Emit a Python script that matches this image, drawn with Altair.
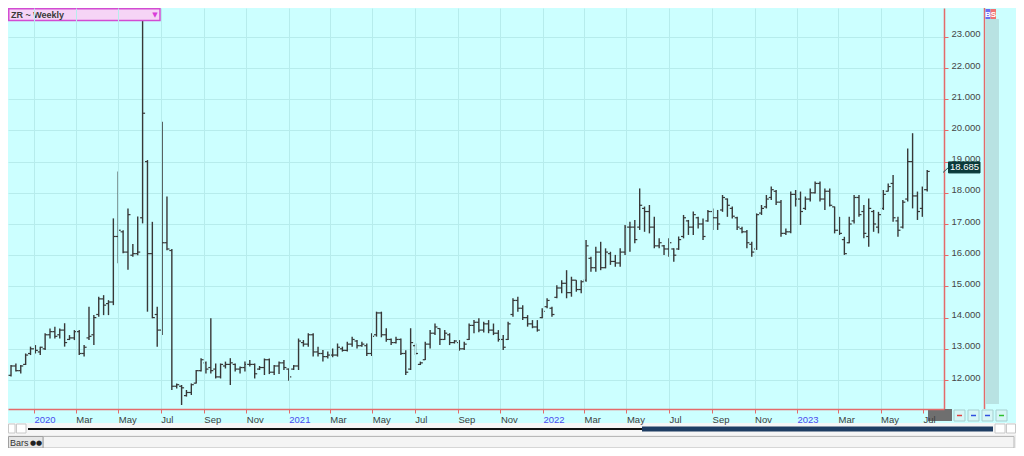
import altair as alt
import pandas as pd

# ---------------- data (weekly OHLC, ZR rough rice) ----------------
FIRST_WEEK = "2019-11-29"

lows = [
    12.11, 12.27, 12.21, 12.48, 12.80, 12.85, 12.80, 12.96, 13.33, 13.33, 13.33, 13.07, 13.28, 13.28, 12.80, 12.75,
    13.28, 13.12, 14.03, 14.08, 14.08, 14.40, 15.74, 16.06, 15.53, 15.95, 16.00, 17.02, 14.19, 13.98, 13.07, 13.44,
    16.16, 11.68, 11.73, 11.20, 11.47, 11.52, 11.89, 12.27, 12.21, 12.21, 12.05, 12.05, 12.37, 11.84, 12.27, 12.21,
    12.27, 12.43, 12.05,
    12.32, 12.16, 12.19, 12.16, 12.19, 12.32, 11.98, 12.32, 12.32, 13.07, 13.07, 12.75, 12.75, 12.59, 12.69, 12.73,
    12.75, 12.91, 12.91, 13.07, 13.01, 13.07, 12.77, 12.77, 13.39, 13.37, 13.23, 13.12, 13.17, 12.80, 12.16, 12.32,
    12.80, 12.48, 12.64, 13.01, 13.44, 13.12, 13.28, 13.12, 13.17, 12.94, 12.96, 13.28, 13.50, 13.53, 13.52, 13.50,
    13.44, 13.23, 12.96,
    13.28, 14.03, 14.19, 13.92, 13.71, 13.66, 13.55, 13.98, 14.30, 14.03, 14.62, 14.78, 14.62, 14.67, 14.83, 14.78,
    15.15, 15.47, 15.47, 15.52, 15.58, 15.69, 15.63, 15.63, 16.01, 16.11, 16.38, 16.81, 16.75, 16.70, 16.22, 16.22,
    16.01, 15.95, 15.79, 16.17, 16.54, 16.65, 16.65, 16.86, 16.49, 17.07, 16.81,
    16.81, 17.39, 17.23, 17.18, 16.81, 16.70, 16.22, 15.95, 16.17, 17.29, 17.50, 17.77, 17.61, 16.59, 16.65, 16.70,
    17.56, 16.97, 17.45, 17.72, 17.98, 17.72, 17.45, 17.56, 16.70, 16.65, 16.01, 16.38, 17.02, 17.23, 16.54, 16.27,
    16.75, 16.70, 17.45, 18.04, 17.07, 16.59, 16.86, 17.72, 17.50, 17.13, 17.23, 18.04,
]

highs = [
    12.48, 12.53, 12.48, 12.85, 13.07, 13.12, 13.07, 13.50, 13.65, 13.71, 13.65, 13.82, 13.44, 13.60, 13.60, 13.12,
    14.35, 14.08, 14.67, 14.72, 14.56, 17.18, 18.68, 16.80, 17.50, 16.36, 17.24, 23.57, 19.05, 17.07, 14.35, 20.28,
    17.88, 16.20, 11.89, 11.84, 11.68, 11.89, 12.32, 12.70, 12.59, 13.98, 12.53, 12.53, 12.59, 12.70, 12.53, 12.43,
    12.59, 12.64, 12.53,
    12.45, 12.69, 12.69, 12.48, 12.59, 12.64, 12.37, 12.48, 13.33, 13.28, 13.50, 13.50, 13.07, 12.96, 12.91, 13.01,
    13.17, 13.07, 13.23, 13.39, 13.28, 13.23, 13.17, 13.50, 14.19, 14.19, 13.66, 13.33, 13.39, 13.33, 12.95, 13.66,
    13.17, 12.59, 13.23, 13.60, 13.81, 13.66, 13.60, 13.50, 13.28, 13.28, 13.23, 13.81, 13.92, 13.98, 13.87, 13.92,
    13.81, 13.60, 13.44,
    13.87, 14.62, 14.67, 14.40, 14.08, 13.92, 13.92, 14.30, 14.62, 14.35, 15.04, 15.20, 15.52, 15.31, 15.20, 15.20,
    16.49, 15.95, 16.27, 16.43, 16.22, 16.11, 16.01, 16.22, 16.97, 17.07, 17.13, 18.14, 17.56, 17.61, 17.23, 16.54,
    16.33, 16.54, 16.22, 16.60, 17.29, 17.13, 17.40, 17.23, 17.18, 17.45, 17.50,
    17.45, 17.93, 17.82, 17.56, 17.23, 16.91, 16.81, 16.43, 17.34, 17.61, 17.93, 18.20, 18.09, 17.77, 16.86, 18.04,
    18.09, 18.04, 17.88, 18.14, 18.36, 18.36, 18.14, 18.14, 17.56, 17.23, 16.59, 17.23, 17.93, 17.93, 17.61, 17.82,
    17.45, 17.39, 18.09, 18.30, 18.57, 17.23, 17.77, 19.42, 19.91, 18.04, 18.20, 18.73,
]

opens = [
    12.15, 12.45, 12.30, 12.50, 12.85, 13.00, 12.90, 13.00, 13.45, 13.55, 13.45, 13.60, 13.30, 13.35, 13.55, 12.85,
    13.35, 13.45, 14.10, 14.60, 14.45, 14.50, 16.60, 16.75, 16.10, 16.00, 16.05, 17.20, 19.00, 16.05, 14.10, 13.60,
    16.40, 16.15, 11.80, 11.80, 11.50, 11.60, 11.90, 12.30, 12.55, 12.40, 12.35, 12.10, 12.45, 12.50, 12.50, 12.35,
    12.40, 12.50, 12.50,
    12.35, 12.40, 12.65, 12.25, 12.45, 12.55, 12.35, 12.35, 12.45, 13.20, 13.15, 13.45, 12.90, 12.85, 12.75, 12.80,
    12.80, 13.00, 12.95, 13.15, 13.25, 13.10, 13.10, 12.85, 13.45, 14.15, 13.45, 13.30, 13.20, 13.30, 12.85, 12.35,
    13.10, 12.50, 12.65, 13.15, 13.50, 13.65, 13.30, 13.45, 13.20, 13.20, 13.00, 13.30, 13.75, 13.85, 13.60, 13.80,
    13.60, 13.50, 13.30,
    13.30, 14.10, 14.55, 14.30, 14.00, 13.80, 13.70, 14.00, 14.35, 14.30, 14.65, 14.95, 15.10, 14.80, 15.20, 14.90,
    15.20, 15.90, 15.60, 16.10, 15.60, 16.05, 15.80, 15.75, 16.10, 16.90, 16.90, 16.90, 17.50, 17.40, 16.90, 16.30,
    16.30, 16.20, 16.20, 16.20, 16.60, 17.10, 16.90, 17.20, 17.00, 17.10, 17.40,
    17.20, 17.45, 17.80, 17.50, 17.20, 16.85, 16.75, 16.35, 16.20, 17.35, 17.55, 17.85, 18.05, 17.70, 16.70, 16.75,
    17.95, 17.80, 17.50, 17.80, 18.00, 18.30, 17.80, 18.05, 17.55, 16.80, 16.50, 16.40, 17.10, 17.85, 17.40, 16.60,
    17.40, 16.90, 17.50, 18.05, 18.30, 17.10, 16.90, 17.80, 19.00, 17.90, 17.50, 18.10,
]

closes = [
    12.45, 12.30, 12.45, 12.80, 13.00, 12.95, 13.05, 13.45, 13.55, 13.40, 13.60, 13.20, 13.35, 13.55, 12.85, 13.05,
    13.40, 14.00, 14.60, 14.40, 14.50, 16.60, 16.80, 16.10, 17.30, 16.05, 16.10, 20.55, 16.05, 14.00, 13.60, 16.40,
    16.20, 11.80, 11.85, 11.75, 11.60, 11.85, 12.30, 12.65, 12.35, 12.30, 12.10, 12.50, 12.50, 12.55, 12.35, 12.40,
    12.50, 12.50, 12.20,
    12.40, 12.65, 12.25, 12.45, 12.55, 12.40, 12.10, 12.45, 13.25, 13.15, 13.45, 12.90, 12.85, 12.75, 12.80, 12.80,
    13.05, 12.95, 13.15, 13.30, 13.10, 13.15, 12.85, 13.40, 14.15, 13.45, 13.30, 13.20, 13.30, 12.85, 12.25, 13.20,
    12.85, 12.55, 13.15, 13.50, 13.70, 13.30, 13.50, 13.20, 13.25, 13.00, 13.15, 13.75, 13.85, 13.60, 13.80, 13.60,
    13.50, 13.30, 13.05,
    13.80, 14.55, 14.30, 14.00, 13.80, 13.70, 13.60, 14.20, 14.55, 14.10, 14.95, 15.10, 14.80, 15.20, 14.90, 15.15,
    16.30, 15.60, 16.10, 15.60, 16.10, 15.80, 15.75, 16.10, 16.90, 16.90, 16.50, 17.60, 17.40, 16.90, 16.30, 16.40,
    16.20, 16.40, 16.00, 16.50, 17.20, 16.90, 17.30, 17.00, 16.60, 17.40, 17.20,
    17.00, 17.85, 17.60, 17.25, 16.90, 16.75, 16.40, 16.10, 17.30, 17.50, 17.80, 18.10, 17.70, 16.70, 16.75, 17.95,
    17.80, 17.40, 17.80, 18.00, 18.30, 17.80, 18.05, 17.60, 16.80, 16.70, 16.05, 17.00, 17.85, 17.30, 16.70, 17.50,
    17.00, 17.30, 17.95, 18.20, 17.20, 16.80, 17.70, 19.00, 17.90, 17.40, 18.10, 18.685,
]

y_ticks = [12, 13, 14, 15, 16, 17, 18, 19, 20, 21, 22, 23]
symbol_label = "ZR ~ Weekly"
tab_label = "Bars"

# ---------------- styling ----------------
BG = "#CCFFFF"
GRID = "#B6ECEC"
RED = "#E46A6A"
BAR = "#383838"
FONT = "Liberation Sans"

dates = pd.date_range(FIRST_WEEK, periods=len(lows), freq="7D").strftime("%Y-%m-%d").tolist()
df = pd.DataFrame({"date": dates, "low": lows, "high": highs, "open": opens, "close": closes})
last = pd.DataFrame({"close": [closes[-1]], "label": [f"{closes[-1]:.3f}"]})
one = pd.DataFrame({"k": [0]})

x_scale = alt.Scale(
    type="utc",
    domain=[alt.DateTime(year=2019, month=11, date=24, hours=16, utc=True),
            alt.DateTime(year=2023, month=7, date=31, hours=3, utc=True)],
)
y_scale = alt.Scale(type="linear", domain=[11.071, 23.923], nice=False, zero=False)

x_axis = alt.Axis(
    orient="bottom",
    tickCount={"interval": "month", "step": 2},
    labelExpr="utcmonth(datum.value) == 0 ? utcFormat(datum.value, '%Y') : utcFormat(datum.value, '%b')",
    labelColor={"condition": {"test": "utcmonth(datum.value) == 0", "value": "#4B4BEE"}, "value": "#404040"},
    labelAlign="left", labelBaseline="top", labelPadding=1, labelFlush=False, labelOverlap=False,
    labelFont=FONT, labelFontSize=9.5,
    tickSize=4, tickColor=RED, domainColor=RED, domainWidth=1.5,
    grid=True, gridColor=GRID, title=None, zindex=1,
)
y_axis = alt.Axis(
    orient="right", values=y_ticks, format=".3f",
    labelAlign="left", labelBaseline="alphabetic", labelPadding=3,
    labelFont=FONT, labelFontSize=9.5, labelColor="#454545",
    tickSize=4, tickColor=RED, domainColor=RED, domainWidth=1.5,
    grid=True, gridColor=GRID, title=None,
)


def X(field="date:T"):
    return alt.X(field, scale=x_scale, axis=x_axis, title=None)


def Y(field):
    return alt.Y(field, scale=y_scale, axis=y_axis, title=None)


base = alt.Chart(df)
hl = base.mark_rule(color=BAR, strokeWidth=1.4).encode(x=X(), y=Y("low:Q"), y2="high:Q")
op = base.mark_rule(color=BAR, strokeWidth=1.2, xOffset=-2.5, x2Offset=0).encode(
    x=X(), x2="date:T", y=Y("open:Q")
)
cl = base.mark_rule(color=BAR, strokeWidth=1.2, xOffset=0, x2Offset=2.5).encode(
    x=X(), x2="date:T", y=Y("close:Q")
)


def box(x, x2, y, y2, fill, stroke="", sw=1.0):
    kw = dict(fill=fill)
    if stroke:
        kw.update(stroke=stroke, strokeWidth=sw)
    return alt.Chart(one).mark_rect(**kw).encode(
        x=alt.value(x), x2=alt.value(x2), y=alt.value(y), y2=alt.value(y2)
    )


def label(t, x, y, color, size=9, weight="normal", align="left", font=FONT):
    return alt.Chart(one).mark_text(
        text=t, align=align, baseline="middle", color=color, fontSize=size, fontWeight=weight, font=font
    ).encode(x=alt.value(x), y=alt.value(y))


def hline(x, x2, y, color, sw=1.0):
    return alt.Chart(one).mark_rule(color=color, strokeWidth=sw).encode(
        x=alt.value(x), x2=alt.value(x2), y=alt.value(y)
    )


def vline(x, y, y2, color, sw=1.0):
    return alt.Chart(one).mark_rule(color=color, strokeWidth=sw).encode(
        x=alt.value(x), y=alt.value(y), y2=alt.value(y2)
    )


deco = [
    # symbol box
    box(0.75, 152, 0.75, 12.5, "#F6D4F6", "#D24CD2", 1.5),
    label(symbol_label, 3, 7, "#3A3A3A", 9, "bold"),
    label("\u25BC", 147, 6.5, "#D93CD9", 7, align="center", font="DejaVu Sans"),
    # right side strip
    vline(976.5, 0, 401, RED, 1.5),
    box(977.5, 991, 11, 396, "#B8E2E2"),
    box(977.5, 982.5, 1, 11, "#6B6BF2"),
    box(982.5, 988, 1, 11, "#F07272"),
    label("B", 980, 6.5, "white", 8, "bold", "center"),
    label("S", 985.3, 6.5, "white", 8, "bold", "center"),
    # current period highlight under x axis
    box(920, 944, 401, 413, "#6F6F6F"),
    # small buttons right of x axis
    box(946, 957, 402, 413, "#D6F6F6", "#A6CFCF"),
    box(960, 971, 402, 413, "#D6F6F6", "#A6CFCF"),
    box(974, 985, 402, 413, "#D6F6F6", "#A6CFCF"),
    box(988, 999, 402, 413, "#D6F6F6", "#A6CFCF"),
    hline(949, 954, 407.5, "#E04040", 1.5),
    hline(963, 968, 407.5, "#3050E0", 1.5),
    hline(977, 982, 407.5, "#3050E0", 1.5),
    hline(991, 996, 407.5, "#30C030", 1.5),
    # scroll row
    box(0, 1008, 415, 427, "#F6F6F6"),
    box(0.5, 7, 416, 425, "white", "#C8C8C8"),
    box(8.5, 18, 416, 425, "white", "#C8C8C8"),
    hline(20, 635, 421, "#111111", 1.8),
    box(634, 985, 418.5, 423.5, "#1E3D63"),
    box(987, 997, 416, 425, "white", "#C8C8C8"),
    box(998.5, 1007.5, 416, 425, "white", "#C8C8C8"),
    # tab row
    box(0, 1008, 427, 440, "#EDEDED"),
    box(35, 1006, 428.5, 440, "#F4F4F4", "#B8B8B8"),
    box(0.5, 35, 428.5, 440, "#E6E6E6", "#A0A0A0"),
    label(tab_label, 2, 434.5, "#333333", 9),
    label("\u25CF\u25CF", 22, 434.5, "#222222", 7, font="DejaVu Sans"),
]

tag = [
    alt.Chart(one).mark_rule(color="#2F4F4F", strokeWidth=1).encode(
        x=alt.value(935), x2=alt.value(941), y=alt.value(164.5), y2=alt.value(159)
    ),
    alt.Chart(last).mark_rect(fill="#0B3A3A", stroke="#0B3A3A", yOffset=-9.5, y2Offset=1.5).encode(
        x=alt.value(940.5), x2=alt.value(972), y=Y("close:Q"), y2="close:Q",
    ),
    alt.Chart(last).mark_text(color="white", fontSize=9.5, font=FONT, align="center", baseline="middle", dy=-4).encode(
        x=alt.value(956.5), y=Y("close:Q"), text="label:N"
    ),
]

chart = alt.layer(hl, op, cl, *deco, *tag).properties(
    width=936, height=401,
    padding={"left": 0, "top": 0, "right": 72, "bottom": 39},
    autosize="none",
).configure(background=BG).configure_view(strokeWidth=0, fill=BG)

chart.save("out.html", embed_options={"renderer": "svg", "actions": False})
